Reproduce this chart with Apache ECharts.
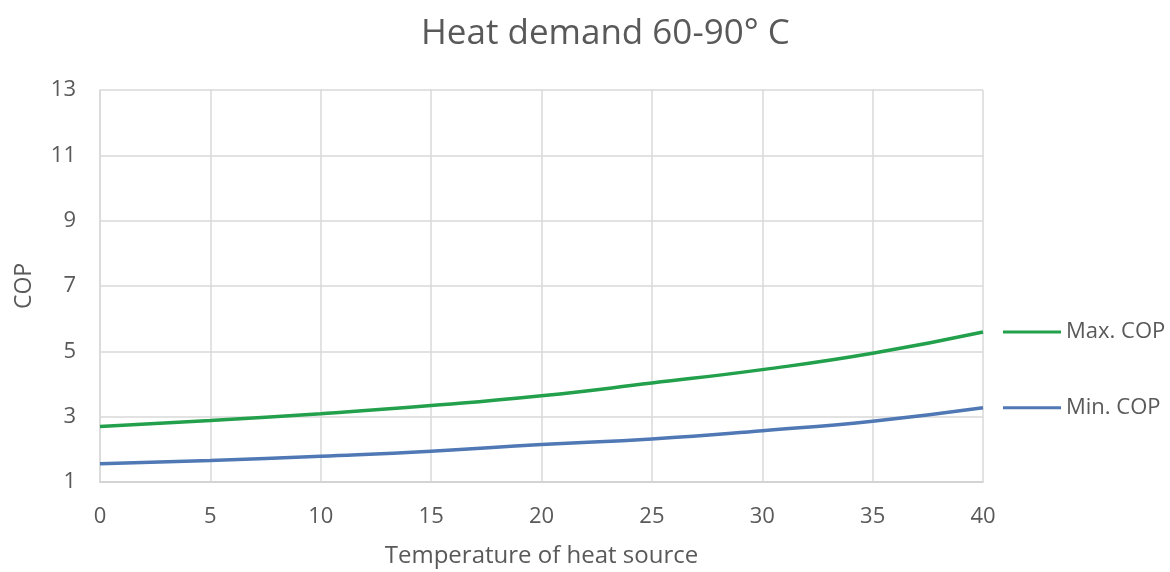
<!DOCTYPE html>
<html>
<head>
<meta charset="utf-8">
<script src="https://cdn.jsdelivr.net/npm/echarts@6/dist/echarts.min.js"></script>
<style>html,body{margin:0;padding:0;background:#fff}#c{width:1170px;height:572px}</style>
</head>
<body>
<div id="c"></div>
<script>
const temps = [0, 5, 10, 15, 20, 25, 30, 35, 40];
const maxCOP = [2.70, 2.88, 3.09, 3.34, 3.64, 4.03, 4.44, 4.94, 5.59];
const minCOP = [1.56, 1.66, 1.79, 1.94, 2.15, 2.32, 2.57, 2.86, 3.27];
const yTicks = [1, 3, 5, 7, 9, 11, 13];
const xTicks = [0, 5, 10, 15, 20, 25, 30, 35, 40];

const FONT = '"Open Sans", "Liberation Sans", sans-serif';
const TXT = '#595959';
const chart = echarts.init(document.getElementById('c'));
function pair(xs, ys){ return xs.map((x,i)=>[x, ys[i]]); }
function endLbl(color, name){
  return {
    show: true, distance: 20,
    formatter: '{l|}{t|' + name + '}',
    rich: {
      l: {width: 58, height: 3, backgroundColor: color},
      t: {fontFamily: FONT, fontSize: 22, color: TXT, padding: [0,0,0,5]}
    }
  };
}
chart.setOption({
  animation: false,
  title: {text: 'Heat demand 60-90° C', left: 416, top: 12,
    textStyle: {fontFamily: FONT, fontSize: 35, fontWeight: 'normal', color: TXT}},
  grid: {left: 100, right: 187, top: 90, bottom: 90, containLabel: false, outerBoundsMode: 'none'},
  xAxis: {
    type: 'value', min: xTicks[0], max: xTicks[xTicks.length-1], interval: 5,
    name: 'Temperature of heat source', nameLocation: 'middle', nameGap: 62,
    nameTextStyle: {fontFamily: FONT, fontSize: 24, color: TXT},
    axisLine: {show: true, lineStyle: {color: '#d0d0d0', width: 1.5}},
    axisTick: {show: false},
    axisLabel: {fontFamily: FONT, fontSize: 22, color: TXT, margin: 24},
    splitLine: {show: true, lineStyle: {color: '#d9d9d9', width: 1.5}}
  },
  yAxis: {
    type: 'value', min: yTicks[0], max: yTicks[yTicks.length-1], interval: 2,
    name: 'COP', nameLocation: 'middle', nameGap: 64, nameRotate: 90,
    nameTextStyle: {fontFamily: FONT, fontSize: 23, color: TXT},
    axisLine: {show: true, lineStyle: {color: '#d9d9d9', width: 1.5}},
    axisTick: {show: false},
    axisLabel: {fontFamily: FONT, fontSize: 22, color: TXT, margin: 24},
    splitLine: {show: true, lineStyle: {color: '#d9d9d9', width: 1.5}}
  },
  series: [
    {name: 'Max. COP', type: 'line', smooth: true, showSymbol: false,
     data: pair(temps, maxCOP), lineStyle: {color: '#22a04b', width: 3.5},
     itemStyle: {color: '#22a04b'}, endLabel: endLbl('#22a04b', 'Max. COP')},
    {name: 'Min. COP', type: 'line', smooth: true, showSymbol: false,
     data: pair(temps, minCOP), lineStyle: {color: '#4f78b5', width: 3.5},
     itemStyle: {color: '#4f78b5'}, endLabel: endLbl('#4f78b5', 'Min. COP')}
  ]
});
</script>
</body>
</html>
